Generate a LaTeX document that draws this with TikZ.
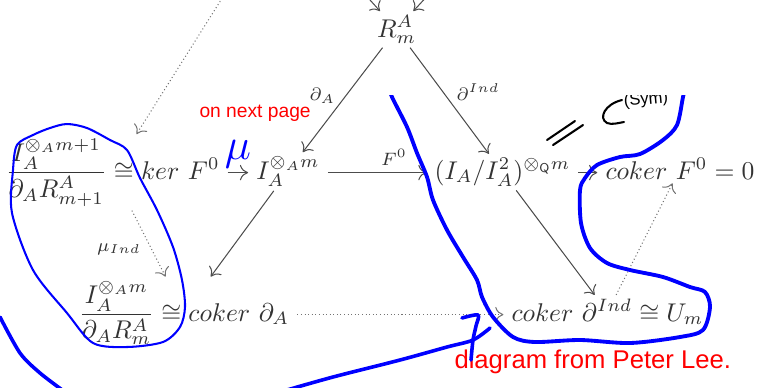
\documentclass[tikz,border=0pt]{standalone}
\usepackage{amsmath}
\usepackage{fontspec}
\newfontfamily\handfont{Liberation Sans}
\usetikzlibrary{arrows.meta}
\begin{document}
\begin{tikzpicture}[x=0.39pt,y=-0.39pt,
  mnode/.style={inner xsep=3pt, inner ysep=1.5pt, anchor=base, text=black!80},
  ar/.style={-{To[length=3.2pt,width=6pt]}, draw=black!70, line width=0.4pt},
  dar/.style={-{To[length=3.2pt,width=6pt]}, draw=black!55, line width=0.4pt, densely dotted},
  lbl/.style={inner sep=0pt, text=black!80},
  bluepen/.style={blue, line width=#1, line cap=round, line join=round},
  redhand/.style={red, inner sep=0pt, font=\handfont\fontsize{#1}{#1}\selectfont}]
\fill[white] (0,0) rectangle (768,387);
\useasboundingbox (0,0) rectangle (768,387);

% nodes
\node[mnode] (R) at (396.5,37) {$R^A_m$};
\node[mnode] (kerF) at (112.5,179) {$\dfrac{I_A^{\otimes_A m+1}}{\partial_A R^A_{m+1}} \cong ker\ F^0$};
\node[mnode] (IA) at (288,179) {$I_A^{\otimes_A m}$};
\node[mnode] (IQ) at (502.5,179) {$(I_A/I_A^2)^{\otimes_{\mathsf{Q}} m}$};
\node[mnode] (cokF) at (680,179) {$coker\ F^0 = 0$};
\node[mnode] (cokA) at (184,321) {$\dfrac{I_A^{\otimes_A m}}{\partial_A R^A_m} \cong coker\ \partial_A$};
\node[mnode] (cokI) at (607.5,321) {$coker\ \partial^{Ind} \cong U_m$};

\coordinate (tl) at (226,-8);
\coordinate (tr1) at (352,-20);
\coordinate (tr2) at (442,-20);

% connectors
\draw[dar] (tl) -- (kerF);
\draw[ar] (tr1) -- (R);
\draw[ar] (tr2) -- (R);
\draw[ar] (R) -- node[lbl, pos=0.46, left=4pt] {$\scriptstyle\partial_A$} (IA);
\draw[ar] (R) -- node[lbl, pos=0.42, right=5pt] {$\scriptstyle\partial^{Ind}$} (IQ);
\draw[ar] ([yshift=2.5pt]kerF.base east) -- node[above=1.5pt, inner sep=0pt, text=blue, font=\fontsize{17.28}{17}\selectfont] {$\mu$} ([yshift=2.5pt]IA.base west);
\draw[ar] ([yshift=2.5pt]IA.base east) -- node[lbl, pos=0.67, above=2.5pt] {$\scriptstyle F^0$} ([yshift=2.5pt]IQ.base west);
\draw[ar] ([yshift=2.5pt]IQ.base east) -- ([yshift=2.5pt]cokF.base west);
\draw[ar] (IA) -- (cokA);
\draw[ar] (IQ) -- (cokI);
\draw[dar] ([yshift=2.5pt]cokA.base east) -- ([yshift=2.5pt]cokI.base west);
\draw[dar] (kerF) -- node[lbl, pos=0.58, left=4pt] {$\scriptstyle\mu_{Ind}$} (cokA);
\draw[dar] (cokI) -- (cokF);

% handwritten annotations
\node[redhand=7.5, anchor=base west] (note1) at (199,117) {on next page};
\node[redhand=10, anchor=base west] (note2) at (454,368) {diagram from Peter Lee.};

\draw[bluepen=0.8pt] plot[smooth cycle] coordinates {(12,213) (13,170) (17,145) (33,135) (50,128) (67,124) (87,128) (110,140) (127,150) (140,178) (157,210) (173,247) (182,280) (185,307) (180,327) (163,342) (127,347) (93,343) (67,313) (33,270)};
\draw[bluepen=1.4pt] plot[smooth] coordinates {(0,317) (20,353) (40,373) (65,392)};
\draw[bluepen=1.4pt] plot[smooth] coordinates {(280,392) (333,377) (400,360) (447,347) (473,340) (490,328)};
\draw[bluepen=1.4pt] plot[smooth] coordinates {(462,318) (478,315) (476,326) (473,340) (471,360)};

\begin{scope}
\clip (380,95) rectangle (768,387);
\draw[bluepen=1.5pt] plot[smooth] coordinates {(388,85) (392,97) (407,127) (417,153) (427,177) (433,200) (447,230) (463,257) (477,280) (482,297) (493,317) (513,337) (535,342) (580,340) (630,343) (680,337) (703,330) (710,307) (705,292) (690,287) (663,277) (630,270) (607,263) (590,248) (581,223) (580,190) (585,178) (597,165) (620,157) (640,154) (663,140) (677,125) (683,97) (686,85)};
\draw[line width=0.8pt, line cap=round] (547,140) -- (575,121);
\draw[line width=0.8pt, line cap=round] (553,145) -- (583,125);
\draw[line width=0.8pt, line cap=round] (622,100) .. controls (605,104) and (598,118) .. (607,123) .. controls (612,125) and (618,123) .. (624,122);
\node[inner sep=0pt, font=\handfont\fontsize{6.5}{6.5}\selectfont, rotate=5] (sym) at (646,100) {(Sym)};
\end{scope}
\end{tikzpicture}
\end{document}
